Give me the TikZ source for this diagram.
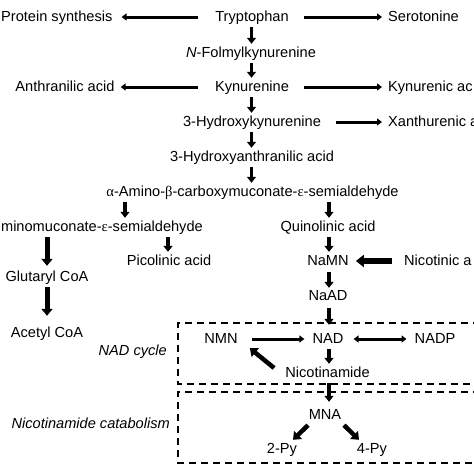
\documentclass[tikz,border=0pt]{standalone}
\usepackage{fontspec}
\setmainfont{Liberation Sans}
\newfontfamily\grk{Liberation Serif}
\usetikzlibrary{arrows.meta,calc}
\begin{document}
\begin{tikzpicture}[x=1pt,y=-1pt,
  font=\fontsize{14.6}{17}\selectfont,
  lbl/.style={inner sep=0pt, anchor=base, text height=11pt, text depth=3pt},
  varr/.style={line width=3.5pt, -{Triangle[width=9pt,length=6pt]}, shorten <=3pt, shorten >=2pt},
  varrtwo/.style={line width=5pt, -{Triangle[width=11pt,length=7pt]}, shorten <=3pt},
  harr/.style={line width=3pt, -{Triangle[width=7pt,length=5pt]}},
  barr/.style={line width=5.5pt, -{Triangle[width=12pt,length=8pt]}},
  darr/.style={line width=3pt, {Triangle[width=7pt,length=5pt]}-{Triangle[width=7pt,length=5pt]}},
  dgarr/.style={line width=4.5pt, -{Triangle[width=11pt,length=7pt]}},
  dbox/.style={line width=1.3pt, dash pattern=on 7pt off 5pt}]
\useasboundingbox (0,0) rectangle (474,474);
\clip (0,0) rectangle (474,474);
\fill[white] (0,0) rectangle (474,474);

% nodes
\node[lbl] (trp) at (252,21) {Tryptophan};
\node[lbl,anchor=base west] (ps) at (1,21) {Protein synthesis};
\node[lbl,anchor=base west] (ser) at (388,21) {Serotonine};
\node[lbl] (nfk) at (251,57) {\textit{N}-Folmylkynurenine};
\node[lbl] (kyn) at (252,91) {Kynurenine};
\node[lbl] (anth) at (65,91) {Anthranilic acid};
\node[lbl,anchor=base west] (kyna) at (388,91) {Kynurenic ac};
\node[lbl] (hk) at (252,126) {3-Hydroxykynurenine};
\node[lbl,anchor=base west] (xan) at (388,126) {Xanthurenic a};
\node[lbl] (haa) at (252,161) {3-Hydroxyanthranilic acid};
\node[lbl] (acms) at (252.5,196) {{\grk α}-Amino-{\grk β}-carboxymuconate-{\grk ε}-semialdehyde};
\node[lbl,anchor=base east] (ams) at (203,231) {minomuconate-{\grk ε}-semialdehyde};
\node[lbl] (quin) at (328,231) {Quinolinic acid};
\node[lbl] (pic) at (169,265) {Picolinic acid};
\node[lbl] (namn) at (328,265) {NaMN};
\node[lbl,anchor=base west] (nic) at (404,265) {Nicotinic a};
\node[lbl] (glu) at (47,281) {Glutaryl CoA};
\node[lbl] (naad) at (328,300) {NaAD};
\node[lbl] (ace) at (47,337) {Acetyl CoA};
\node[lbl] (nmn) at (221,343) {NMN};
\node[lbl] (nad) at (328,343) {NAD};
\node[lbl] (nadp) at (435,343) {NADP};
\node[lbl,anchor=base east] (cyc) at (167,355) {\textit{NAD cycle}};
\node[lbl] (nam) at (327.5,377) {Nicotinamide};
\node[lbl,anchor=base east] (cat) at (170,428) {\textit{Nicotinamide catabolism}};
\node[lbl] (mna) at (325,419) {MNA};
\node[lbl] (pytwo) at (282,453) {2-Py};
\node[lbl] (pyfour) at (372,453) {4-Py};

% dashed boxes
\draw[dbox] (480,323) -- (178,323) -- (178,384) -- (480,384);
\draw[dbox] (480,392) -- (178,392) -- (178,463) -- (480,463);

% columns
\coordinate (cA) at (251.5,0);
\coordinate (cL) at (125,0);
\coordinate (cQ) at (329,0);
\coordinate (cP) at (168,0);
\coordinate (cG) at (47,0);

% vertical arrows
\draw[varr] (trp.south -| cA) -- (nfk.north -| cA);
\draw[varr] (nfk.south -| cA) -- (kyn.north -| cA);
\draw[varr] (kyn.south -| cA) -- (hk.north -| cA);
\draw[varr] (hk.south -| cA) -- (haa.north -| cA);
\draw[varr] (haa.south -| cA) -- (acms.north -| cA);
\draw[varr] (acms.south -| cL) -- (ams.north -| cL);
\draw[varr] (acms.south -| cQ) -- (quin.north -| cQ);
\draw[varr] (ams.south -| cP) -- (pic.north -| cP);
\draw[varrtwo, shorten >=4pt] (ams.south -| cG) -- (glu.north -| cG);
\draw[varrtwo, shorten >=10pt] (glu.south -| cG) -- (ace.north -| cG);
\draw[varr] (quin.south -| cQ) -- (namn.north -| cQ);
\draw[varr, shorten <=4pt, shorten >=1pt] (namn.south -| cQ) -- (naad.north -| cQ);
\draw[varr, shorten <=5pt, shorten >=7pt] (naad.south -| cQ) -- (nad.north -| cQ);
\draw[varr] (nad.south -| cQ) -- (nam.north -| cQ);
\draw[varr, shorten >=6pt] (nam.south -| cQ) -- (mna.north -| cQ);

% horizontal arrows
\draw[harr, shorten <=17pt, shorten >=9pt] (trp.west) -- (ps.east);
\draw[harr, shorten <=15pt, shorten >=6pt] (trp.east) -- (ser.west);
\draw[harr, shorten <=17pt, shorten >=6pt] (kyn.west) -- (anth.east);
\draw[harr, shorten <=15pt, shorten >=6pt] (kyn.east) -- (kyna.west);
\draw[harr, shorten <=15pt, shorten >=6pt] (hk.east) -- (xan.west);
\draw[barr, shorten <=12pt, shorten >=7pt] (nic.west) -- (namn.east);
\draw[harr, shorten <=14pt, shorten >=8pt] (nmn.east) -- (nad.west);
\draw[darr, shorten <=10pt, shorten >=8pt] (nad.east) -- (nadp.west);

% diagonal arrows
\draw[dgarr] ($(nam.west)+(-11,-5)$) -- ($(nmn.south east)+(12,2)$);
\draw[dgarr] ($(mna.south)+(-17,3)$) -- ($(pytwo.north)+(11,-2)$);
\draw[dgarr] ($(mna.south)+(19,3)$) -- ($(pyfour.north)+(-13,-2)$);
\end{tikzpicture}
\end{document}
